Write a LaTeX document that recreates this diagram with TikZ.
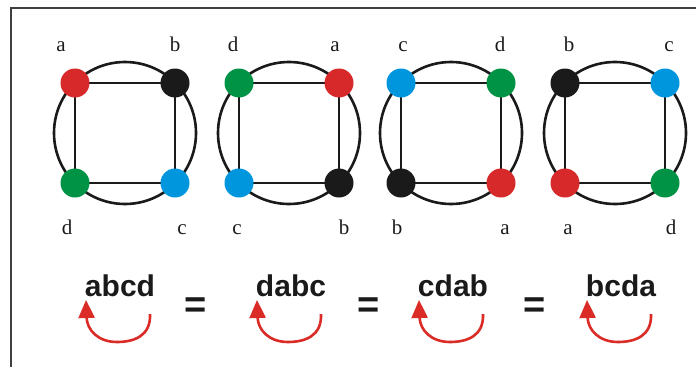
\documentclass[tikz,border=0pt]{standalone}
\usepackage{fontspec}
\setmainfont{Liberation Serif}
\setsansfont{Liberation Sans}
\usetikzlibrary{arrows.meta}
\definecolor{cred}{HTML}{D7282A}
\definecolor{cblk}{HTML}{1A1A1A}
\definecolor{cgrn}{HTML}{009245}
\definecolor{cblu}{HTML}{0096DE}
\definecolor{arrred}{HTML}{DA2B27}
\tikzset{
  ring/.style={draw=cblk, line width=2.6pt},
  edge/.style={draw=cblk, line width=2.6pt},
  vtx/.style={circle, inner sep=0pt, minimum size=29pt},
  lbl/.style={anchor=base, inner sep=0pt, font=\fontsize{21}{21}\selectfont, text=cblk},
  word/.style={anchor=base, inner sep=0pt, font=\sffamily\bfseries\fontsize{30}{30}\selectfont, text=cblk},
  eqs/.style={inner sep=0pt, font=\sffamily\bfseries\fontsize{38}{38}\selectfont, text=cblk},
  rot/.style={draw=arrred, line width=2.6pt, -{Triangle[length=18pt,width=16pt]}},
  frame/.style={draw=black!75, line width=1.3pt}
}
\begin{document}
\begin{tikzpicture}[x=1pt,y=-1pt]
\useasboundingbox (0,0) rectangle (696,367);
\coordinate (fb) at (11,367);
\coordinate (fc) at (11,8);
\coordinate (fr) at (696,8);
\draw[frame] (fb) -- (fc) -- (fr);
% graphs: center x, TL,TR,BL,BR colours, labels and label x positions
\foreach \g/\cx/\ctl/\ctr/\cbl/\cbr/\ltl/\ltr/\lbl/\lbr/\xtl/\xtr/\xbl/\xbr in {
  1/125/cred/cblk/cgrn/cblu/a/b/d/c/61/175/67/182,
  2/289/cgrn/cred/cblu/cblk/d/a/c/b/233/335/237/344,
  3/451/cblu/cgrn/cblk/cred/c/d/b/a/403/500/397/505,
  4/615/cblk/cblu/cred/cgrn/b/c/a/d/569/669/568/671}{
  \node[circle, inner sep=0pt, minimum size=142pt, ring] (c\g) at (\cx,133) {};
  \node[vtx] (tl\g) at (\cx-50,83) {};
  \node[vtx] (tr\g) at (\cx+50,83) {};
  \node[vtx] (bl\g) at (\cx-50,183) {};
  \node[vtx] (br\g) at (\cx+50,183) {};
  \draw[edge] (tl\g.center) -- (tr\g.center) -- (br\g.center) -- (bl\g.center) -- cycle;
  \fill[\ctl] (tl\g) circle (14.5pt);
  \fill[\ctr] (tr\g) circle (14.5pt);
  \fill[\cbl] (bl\g) circle (14.5pt);
  \fill[\cbr] (br\g) circle (14.5pt);
  \node[lbl] (ltl\g) at (\xtl,51.5) {\ltl};
  \node[lbl] (ltr\g) at (\xtr,51.5) {\ltr};
  \node[lbl] (lbl\g) at (\xbl,234) {\lbl};
  \node[lbl] (lbr\g) at (\xbr,234) {\lbr};
}
% words and rotation arrows
\foreach \w/\cx/\txt in {1/120/abcd, 2/291/dabc, 3/453/cdab, 4/621/bcda}{
  \node[word] (w\w) at (\cx,296) {\txt};
  \coordinate (as\w) at (\cx+30,314);
  \coordinate (ab\w) at (\cx-3,342);
  \coordinate (at\w) at (\cx-34,300);
  \draw[rot] (as\w) .. controls (\cx+31,336) and (\cx+14,342) .. (ab\w)
     .. controls (\cx-22,342) and (\cx-33,330) .. (at\w);
}
\node[eqs] (e1) at (196,308) {=};
\node[eqs] (e2) at (369,308) {=};
\node[eqs] (e3) at (535,308) {=};
\end{tikzpicture}
\end{document}
